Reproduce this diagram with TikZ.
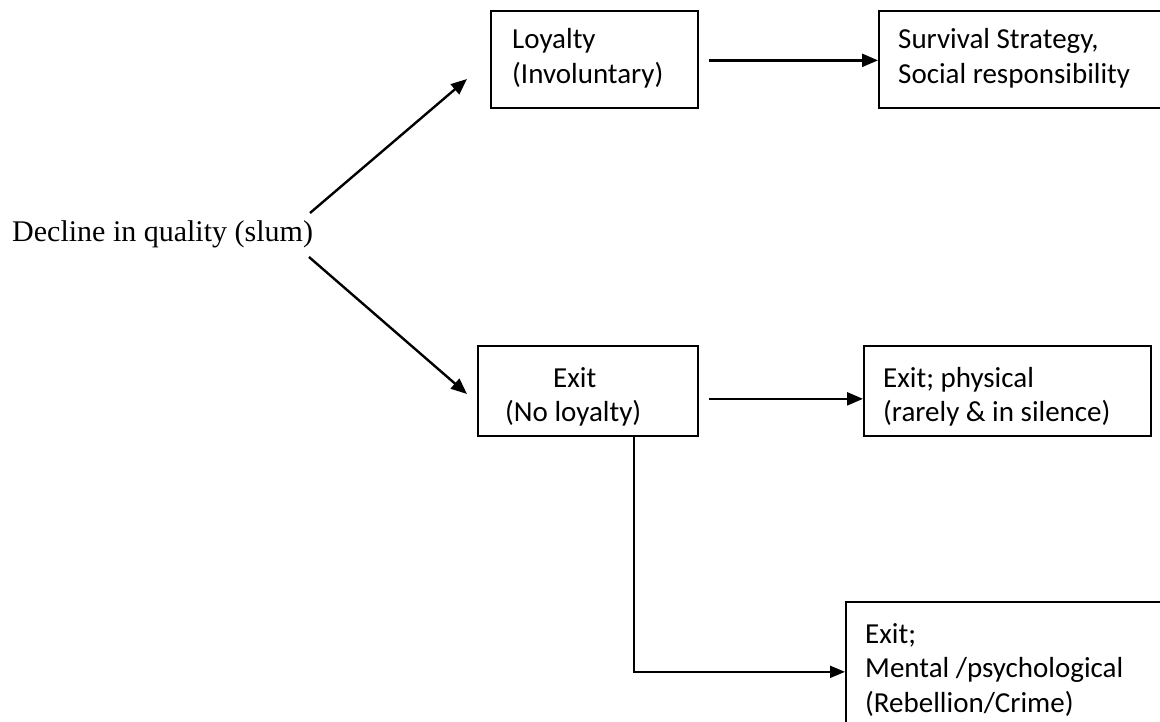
\documentclass[tikz,border=0pt]{standalone}
\usepackage{fontspec}
\setmainfont{Carlito}
\newfontfamily\serifface{Liberation Serif}
\usetikzlibrary{arrows.meta}
% stacked, left-aligned lines whose baseline is that of the first line
\newcommand{\stackedlines}[1]{\begin{tabular}[t]{@{}l@{}}#1\end{tabular}}
\begin{document}
\begin{tikzpicture}[x=1pt,y=-1pt,
  box/.style={draw=black, line width=1.7pt, inner sep=0pt, anchor=north west},
  boxtext/.style={anchor=base west, inner sep=0pt, font=\fontsize{29}{34.5}\selectfont},
  arrowline/.style={line width=2.4pt, -{Triangle[length=16pt,width=13pt]}},
  elbowline/.style={line width=1.8pt, -{Triangle[length=15pt,width=12pt]}}
]
\useasboundingbox (0,0) rectangle (1160,722);
\clip (0,0) rectangle (1160,722);

% starting statement
\node[anchor=base west, inner sep=0pt, font=\serifface\fontsize{30}{35}\selectfont]
  (decl) at (12,242) {Decline in quality (slum)};

% boxes
\node[box, minimum width=207pt, minimum height=97pt] (loy) at (490,10) {};
\node[box, minimum width=300pt, minimum height=97pt] (surv) at (878,10) {};
\node[box, minimum width=220pt, minimum height=90pt] (exit) at (477,345) {};
\node[box, minimum width=287pt, minimum height=90pt] (phys) at (863,345) {};
\node[box, minimum width=330pt, minimum height=140pt] (ment) at (845,601) {};

% box texts
\node[boxtext] (loyT) at (512,49) {\stackedlines{Loyalty\\(Involuntary)}};
\node[boxtext] (survT) at (898,49) {\stackedlines{Survival Strategy,\\Social responsibility}};
\node[boxtext] (exitT) at (505,387) {\stackedlines{\hspace*{48pt}Exit\\(No loyalty)}};
\node[boxtext] (physT) at (883,387) {\stackedlines{Exit; physical\\(rarely \& in silence)}};
\node[boxtext] (mentT) at (865,643) {\stackedlines{Exit;\\Mental /psychological\\(Rebellion/Crime)}};

% free ends of the diagonal arrows
\coordinate (upStart) at (310,213);
\coordinate (upEnd) at (467,79);
\coordinate (downStart) at (309,257);
\coordinate (downEnd) at (467,394);

% connectors
\draw[arrowline] (upStart) -- (upEnd);
\draw[arrowline] (downStart) -- (downEnd);
\draw[arrowline, shorten <=10pt] ([yshift=-1pt]loy.east) -- ([yshift=-1pt]surv.west);
\draw[arrowline] ([shift={(10,8)}]exit.east) -- ([shift={(0,8)}]phys.west);
\draw[elbowline] ([xshift=157pt]exit.south west) |- (ment.west);
\end{tikzpicture}
\end{document}
